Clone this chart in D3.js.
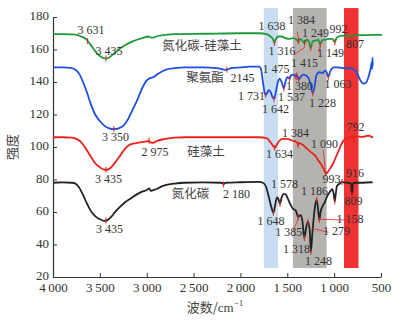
<!DOCTYPE html>
<html><head><meta charset="utf-8">
<script src="https://cdn.jsdelivr.net/npm/d3@7"></script>
<style>body{margin:0;background:#fff}svg{display:block}</style>
</head><body>
<script>
// ---------- data ----------
const xTicks = [4000,3500,3000,2500,2000,1500,1000,500];
const yTicks = [20,40,60,80,100,120,140,160,180];

const greenWn  = [4000,3900,3800,3750,3700,3650,3600,3550,3500,3450,3420,3380,3330,3250,3150,3050,2980,2960,2930,2900,2800,2700,2400,2000,1800,1720,1680,1650,1638,1625,1600,1560,1520,1475,1440,1400,1384,1365,1340,1316,1295,1275,1249,1230,1200,1170,1149,1130,1100,1050,1020,992,975,950,900,840,820,807,795,750,700,600,490];
const greenVal = [169.5,169.5,169.3,169,168,166.5,163,159,156,154.5,154.5,156,158.5,162,165,167,168,167.5,167.3,168,169,169.5,169.7,170,170,169.5,168,166,164,166,168,168,167,166.5,167,166,165,166.5,165.5,164,166,165.5,161,165,165.5,166,163,165.5,166,166.5,166.5,164.5,167,168,168.5,168.5,168,167,168.5,169,168.8,169,169];

const blueWn  = [4000,3900,3800,3760,3720,3680,3640,3600,3550,3500,3450,3400,3350,3300,3250,3200,3150,3100,3050,3000,2960,2930,2880,2800,2700,2600,2400,2250,2150,2100,2000,1900,1800,1780,1760,1740,1731,1715,1700,1680,1660,1642,1625,1600,1580,1560,1537,1520,1500,1475,1460,1440,1415,1400,1380,1360,1330,1300,1270,1250,1228,1210,1190,1160,1120,1100,1080,1063,1045,1020,1000,950,900,850,800,760,720,690,660,640,620,605,600,595,590,588];
const blueVal = [149,149,148.5,147.5,145,140,134,127,120,116,113,111.5,111,111.5,113,117,123,129,136,141,142.5,143,145,147.5,148.5,149,149,148.5,147.5,148.5,149,149.5,149.5,148,140,133,132,133,135,134,131,129.5,133,140,142,140,136,140,143,142,144,144.5,143.5,144.5,141.5,143,144.5,144,142,138,133,137,144,146,145.5,147,146,143,146,148.5,149,149,148.5,148.5,148,146,141,139,139.5,142,146,150,152,148,155,150];

const redWn  = [4000,3900,3800,3750,3700,3650,3600,3550,3500,3450,3420,3380,3330,3280,3230,3180,3100,3050,3000,2975,2960,2930,2900,2800,2700,2600,2000,1800,1720,1680,1650,1634,1615,1590,1550,1500,1450,1400,1390,1384,1378,1340,1300,1250,1200,1160,1130,1100,1085,1070,1040,1010,980,950,920,890,860,820,800,792,785,750,700,650,620,600,585];
const redVal = [106,106,105.8,105,103,99,94.5,90,87.5,86,86,87.5,91,95,99,101.5,102.5,103,103.5,103.8,102.8,102.5,103.5,105,105.8,106,106,106,105.5,103,100.5,99.5,101,103.5,105,105,104,103,102,101,102.5,101.5,99.5,97,94.5,91,88.5,85,83.5,84.5,87,90,94,98,102,104.5,105.5,106,106.2,104.5,106,106.5,106.2,106.8,107,106,106.5];

const blackWn  = [4000,3900,3800,3760,3720,3680,3640,3600,3550,3500,3450,3420,3380,3330,3280,3230,3180,3100,3050,3000,2975,2955,2930,2900,2850,2800,2700,2600,2400,2200,2180,2160,2000,1800,1760,1730,1700,1670,1648,1630,1610,1595,1578,1560,1540,1520,1500,1470,1440,1410,1385,1360,1340,1318,1300,1279,1260,1248,1235,1215,1200,1186,1172,1158,1145,1120,1100,1080,1050,1020,1005,993,985,970,940,916,900,850,820,809,800,780,700,590];
const blackVal = [78,78.2,78,77.5,75,70.5,65.5,61,57.5,55.5,54.5,55,57,60.5,63.5,66,68,71,72.5,73.5,74.5,73,73.5,74,75.5,76.5,77.5,78,78.2,78,77,78,78.3,78.5,78,76,70,63,59.5,64,69,68,65,69,71,71,69,65,62,61,57,58,55,44,50,54,48,35.5,45,58,65,67.5,62,55,60,64,66,69,72,74,71,66.5,70,76,77.5,78.5,78.2,78,77.5,70.5,77.5,78,78,78.3];

const seriesNames  = ["氮化碳-硅藻土","聚氨酯","硅藻土","氮化碳"];
const seriesColors = ["#1e9a3c","#1d4fe0","#e8231c","#222222"];

// peak marks per series (wavenumbers)
const greenPeaks = [3631,3435,1638,1384,1316,1249,1149,992,807];
const bluePeaks  = [3350,2145,1731,1642,1537,1475,1415,1380,1228,1063];
const redPeaks   = [3435,2975,1634,1384,1090,792];
const blackPeaks = [3435,2180,1648,1578,1385,1318,1279,1248,1186,1158,993,916,809];

// annotation texts with anchor in data units
const annotTexts = ["3 631","3 435","3 350","2 975","3 435","3 435","2 180","2145","1 638","1 384","1 249","992","807","1 316","1 149","1 475","1 415","1 380","1 063","1 731","1 537","1 642","1 228","1 384","1 090","792","1 634","993","916","1 578","1 186","809","1 648","1 158","1 385","1 279","1 318","1 248"];
const annotWn    = [3595,3402,3333,2912,3408,3397,2042,1978,1663,1348,1199,953,777,1556,1039,1620,1316,1370,959,1881,1455,1626,1124,1412,1103,772,1583,1028,777,1530,1210,793,1673,831,1485,975,1402,1167];
const annotVal   = [169.5,156.6,103.7,94.5,77.8,47.1,68.6,140,172,175.7,167.7,170.2,160.9,156.6,155.4,145.5,149.2,135.1,136.3,128.9,128.2,120.8,124.6,106.2,99.4,109.8,93.2,77.8,81.5,74.8,70.5,64.3,52.3,53.2,45.2,45.8,34.8,27.4];

// series label anchors
const labelWn  = [2410,2378,2367,2533];
const labelVal = [159.7,140,94.5,68.6];

// highlighted bands [from, to] wavenumber
const bandFrom = [1750,1440,895];
const bandTo   = [1600,1080,740];
const bandColors = ["#c8ddf1","#b5b3b0","#f03232"];
const bandTop = 185.5, bandBottom = 25.5;

// leader lines [wn1,val1,wn2,val2]
const leaders = [
  [1395,171,1370,164],
  [1420,157,1310,161.5],
  [1165,158.5,1149,162],
  [1400,146,1400,141],
  [1115,98,1095,86],
  [840,55,1150,55.5],
  [1060,47.5,1240,50],
  [1440,48,1380,56],
  [790,108,790,104]
];

// ---------- drawing ----------
const W = 406, H = 324;
const svg = d3.select("body").append("svg").attr("width", W).attr("height", H);
const x = d3.scaleLinear().domain([4000, 500]).range([53, 381]);
const y = d3.scaleLinear().domain([20, 180]).range([277, 17]);
const SERIF = "'Liberation Serif', 'Times New Roman', serif";
const CJK = "'Noto Sans CJK SC', sans-serif";

// bands
bandFrom.forEach((f, i) => {
  svg.append("rect")
    .attr("x", x(f)).attr("width", x(bandTo[i]) - x(f))
    .attr("y", y(bandTop)).attr("height", y(bandBottom) - y(bandTop))
    .attr("fill", bandColors[i]);
});

const fmt = n => n >= 1000 ? `${Math.floor(n/1000)}\u2009${String(n%1000).padStart(3,"0")}` : String(n);

// axes
const gx = svg.append("g").attr("transform", `translate(0,${y(20)})`)
  .call(d3.axisBottom(x).tickValues(xTicks).tickSizeInner(-4).tickSizeOuter(0).tickFormat(fmt));
const gy = svg.append("g").attr("transform", `translate(${x(4000)},0)`)
  .call(d3.axisLeft(y).tickValues(yTicks).tickSizeInner(-4).tickSizeOuter(0));
[gx, gy].forEach(g => {
  g.attr("font-family", SERIF).attr("font-size", 13);
  g.select(".domain").attr("stroke", "#333").attr("stroke-width", 1.2);
  g.selectAll(".tick line").attr("stroke", "#333");
  g.selectAll("text").attr("fill", "#333");
});
gx.selectAll("text").attr("dy", "0.92em");
gy.selectAll("text").attr("dx", "-1").attr("dy", "0.22em");

// lines
const seriesWn  = [greenWn, blueWn, redWn, blackWn];
const seriesVal = [greenVal, blueVal, redVal, blackVal];
const line = d3.line().x(d => x(d[0])).y(d => y(d[1])).curve(d3.curveMonotoneX);
seriesWn.forEach((wn, i) => {
  const pts = wn.map((w, j) => [w, seriesVal[i][j]]).sort((a, b) => a[0] - b[0]);
  svg.append("path").datum(pts)
    .attr("d", line).attr("fill", "none")
    .attr("stroke", seriesColors[i]).attr("stroke-width", 1.8).attr("stroke-linejoin", "round");
});

// peak marks
const interp = (wn, vals, w) => {
  for (let k = 0; k < wn.length - 1; k++) {
    const a = wn[k], b = wn[k+1];
    if ((w <= a && w >= b) || (w >= a && w <= b)) {
      const t = (w - a) / (b - a || 1);
      return vals[k] + t * (vals[k+1] - vals[k]);
    }
  }
  return vals[vals.length - 1];
};
[greenPeaks, bluePeaks, redPeaks, blackPeaks].forEach((peaks, i) => {
  peaks.forEach(p => {
    const v = interp(seriesWn[i], seriesVal[i], p);
    svg.append("line")
      .attr("x1", x(p)).attr("x2", x(p))
      .attr("y1", y(v) - 3).attr("y2", y(v) + 3)
      .attr("stroke", "#e8231c").attr("stroke-width", 1);
  });
});

// leader lines
leaders.forEach(l => {
  svg.append("line")
    .attr("x1", x(l[0])).attr("y1", y(l[1]))
    .attr("x2", x(l[2])).attr("y2", y(l[3]))
    .attr("stroke", "#e8231c").attr("stroke-width", 0.8);
});

// annotation texts
annotTexts.forEach((t, i) => {
  svg.append("text")
    .attr("x", x(annotWn[i])).attr("y", y(annotVal[i]))
    .attr("text-anchor", "middle")
    .attr("font-family", SERIF).attr("font-size", 12)
    .attr("fill", "#333").text(t);
});

// series labels
seriesNames.forEach((n, i) => {
  svg.append("text")
    .attr("x", x(labelWn[i])).attr("y", y(labelVal[i]))
    .attr("text-anchor", "middle")
    .attr("font-family", CJK).attr("font-size", 12.5)
    .attr("fill", "#444").text(n);
});

// axis titles
svg.append("text")
  .attr("transform", `translate(17,${y(100)}) rotate(-90)`)
  .attr("text-anchor", "middle")
  .attr("font-family", CJK).attr("font-size", 13)
  .attr("fill", "#444").text("强度");
const xt = svg.append("text")
  .attr("x", 215).attr("y", 312)
  .attr("text-anchor", "middle")
  .attr("font-family", CJK).attr("font-size", 13).attr("fill", "#444");
xt.append("tspan").text("波数/");
xt.append("tspan").attr("font-family", SERIF).text("cm");
xt.append("tspan").attr("font-family", SERIF).attr("font-size", 9).attr("dy", -6).text("−1");
</script>
</body></html>
